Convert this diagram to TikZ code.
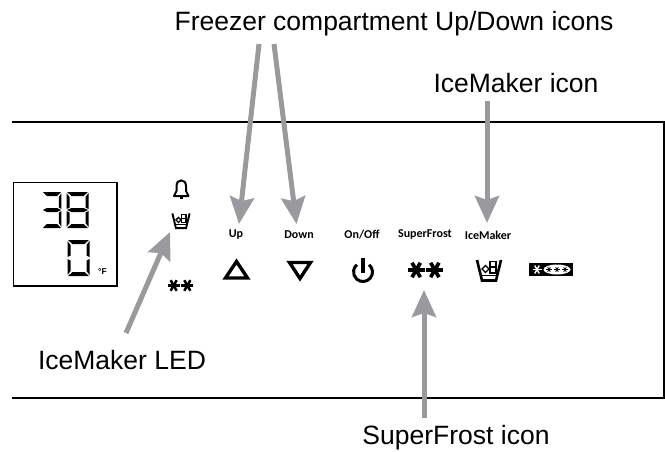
\documentclass[tikz,border=0pt]{standalone}
\usepackage{fontspec}
\setmainfont{Liberation Sans}
\newfontfamily\panelfont{Carlito}
\usetikzlibrary{arrows.meta}
\definecolor{calloutgray}{HTML}{9A9A9E}
\tikzset{
  calloutlabel/.style={font=\fontsize{26.5}{30}\selectfont, inner sep=0pt},
  keylabel/.style={font=\panelfont\bfseries\fontsize{12}{14}\selectfont, inner sep=0pt},
  callout/.style={draw=calloutgray, line width=5pt, -{Stealth[length=27pt,width=24pt,inset=4pt,fill=calloutgray]}},
  seg a/.pic={\fill (0,0) -- (21,0) -- (16.5,4) -- (4.5,4) -- cycle;},
  seg b/.pic={\fill (21.5,1) -- (21.5,17) -- (18.5,15.5) -- (18.5,5) -- cycle;},
  seg c/.pic={\fill (21.5,19) -- (21.5,35) -- (18.5,31) -- (18.5,20.5) -- cycle;},
  seg d/.pic={\fill (0,36) -- (21,36) -- (16.5,32) -- (4.5,32) -- cycle;},
  seg e/.pic={\fill (-.5,19) -- (-.5,35) -- (2.5,31) -- (2.5,20.5) -- cycle;},
  seg f/.pic={\fill (-.5,1) -- (-.5,17) -- (2.5,15.5) -- (2.5,5) -- cycle;},
  seg g/.pic={\fill (0,18) -- (4.5,16) -- (16.5,16) -- (21,18) -- (16.5,20) -- (4.5,20) -- cycle;},
  frost/.pic={
    \foreach \cx in {-9.5,9.5} {
      \foreach \ang in {0,60,120}
        \draw (\cx,0) ++(\ang:8.5) -- ++(\ang+180:17);
    }
  },
  icebucket/.pic={
    \draw (-12,-10.5) -- (-7,10) -- (7,10) -- (12,-10.5);
    \fill (-7.5,8) rectangle (7.5,10.5);
    \draw[line width=.9pt] (-8.5,4.5) -- (8.5,4.5);
    \draw[line width=1.3pt] (-3.5,-5) -- (0,-1.5) -- (-3.5,2) -- (-7,-1.5) -- cycle;
    \draw[line width=1.3pt] (1,-9) rectangle (7,-3.5);
    \draw[line width=1.3pt] (1,-3.5) rectangle (7,2.5);
  },
}
\begin{document}
\begin{tikzpicture}[x=1pt, y=-1pt, line join=miter]
  \useasboundingbox (0,0) rectangle (665,452);

  % panel outline, open on the left
  \draw[line width=2.5pt] (12,122) -- (664,122) -- (664,398) -- (12,398);
  % display window
  \draw[line width=1.4pt] (13.5,182.5) rectangle (117,286);

  % digits
  \foreach \s in {a,b,c,d,g} \pic[xscale=.86] at (43,192) {seg \s};
  \foreach \s in {a,b,c,d,e,f,g} \pic at (67,192) {seg \s};
  \foreach \s in {a,b,c,d,e,f} \pic at (68,240) {seg \s};
  \node[font=\bfseries\fontsize{8.5}{10}\selectfont, inner sep=0pt] (unitF) at (102.5,272) {°F};

  % bell
  \draw[line width=2pt, line join=round] (174,196) -- (176.5,191) -- (176.5,186)
    .. controls (176.5,178.5) and (186,178.5) .. (186,186) -- (186,191) -- (188.5,196) -- cycle;
  \fill (179.5,196) rectangle (183,198.5);

  % status icons
  \pic[scale=.72, line width=1.9pt] at (181,221) {icebucket};
  \pic[scale=.72, line width=2.5pt] at (180.5,285.5) {frost};

  % key labels
  \foreach \nm/\px/\txt in {keyUp/236/Up, keyDown/299/Down, keyOnOff/362/On\slash Off, keyFrost/425/SuperFrost, keyIce/488/IceMaker}
    \node[keylabel] (\nm) at (\px,235) {\txt};

  % key icons
  \draw[line width=3.4pt] (225.5,278) -- (236.5,261.5) -- (247.5,278) -- cycle;
  \draw[line width=3.4pt] (289.5,262.5) -- (310.5,262.5) -- (300,278.5) -- cycle;
  \draw[line width=3pt] (363,272) ++(-50:9.5) arc[start angle=-50, end angle=230, radius=9.5];
  \draw[line width=3.4pt] (363,258) -- (363,273);
  \pic[scale=.98, line width=3.7pt] at (425.5,270) {frost};
  \pic[line width=2.6pt] at (489,270.5) {icebucket};

  % badge on the right
  \fill (529,263) rectangle (573,276);
  \foreach \ang in {0,60,120}
    \draw[white, line width=1.5pt] (537,269.5) ++(\ang:4.5) -- ++(\ang+180:9);
  \fill[white] (557,269.5) ellipse[x radius=13.5, y radius=5];
  \foreach \cx in {549,557,565} \foreach \ang in {0,60,120}
    \draw[line width=.8pt] (\cx,269.5) ++(\ang:2.6) -- ++(\ang+180:5.2);

  % text labels
  \node[calloutlabel] (lblFreezer) at (394,24) {Freezer compartment Up/Down icons};
  \node[calloutlabel] (lblIceIcon) at (516,83) {IceMaker icon};
  \node[calloutlabel] (lblIceLed) at (122,360) {IceMaker LED};
  \node[calloutlabel] (lblFrost) at (456,438) {SuperFrost icon};

  % callout ends
  \coordinate (tailUp) at (259,44);
  \coordinate (tailDown) at (274,44);
  \coordinate (tailIce) at (487,101);
  \coordinate (tailLed) at (126,333);
  \coordinate (tailFrost) at (424,418);
  \coordinate (tipUp) at (239,224);
  \coordinate (tipDown) at (296.5,224);
  \coordinate (tipIce) at (487,223);
  \coordinate (tipLed) at (170,232);
  \coordinate (tipFrost) at (424,290);

  \draw[callout] (tailUp) -- (tipUp);
  \draw[callout] (tailDown) -- (tipDown);
  \draw[callout] (tailIce) -- (tipIce);
  \draw[callout] (tailLed) -- (tipLed);
  \draw[callout] (tailFrost) -- (tipFrost);
\end{tikzpicture}
\end{document}
